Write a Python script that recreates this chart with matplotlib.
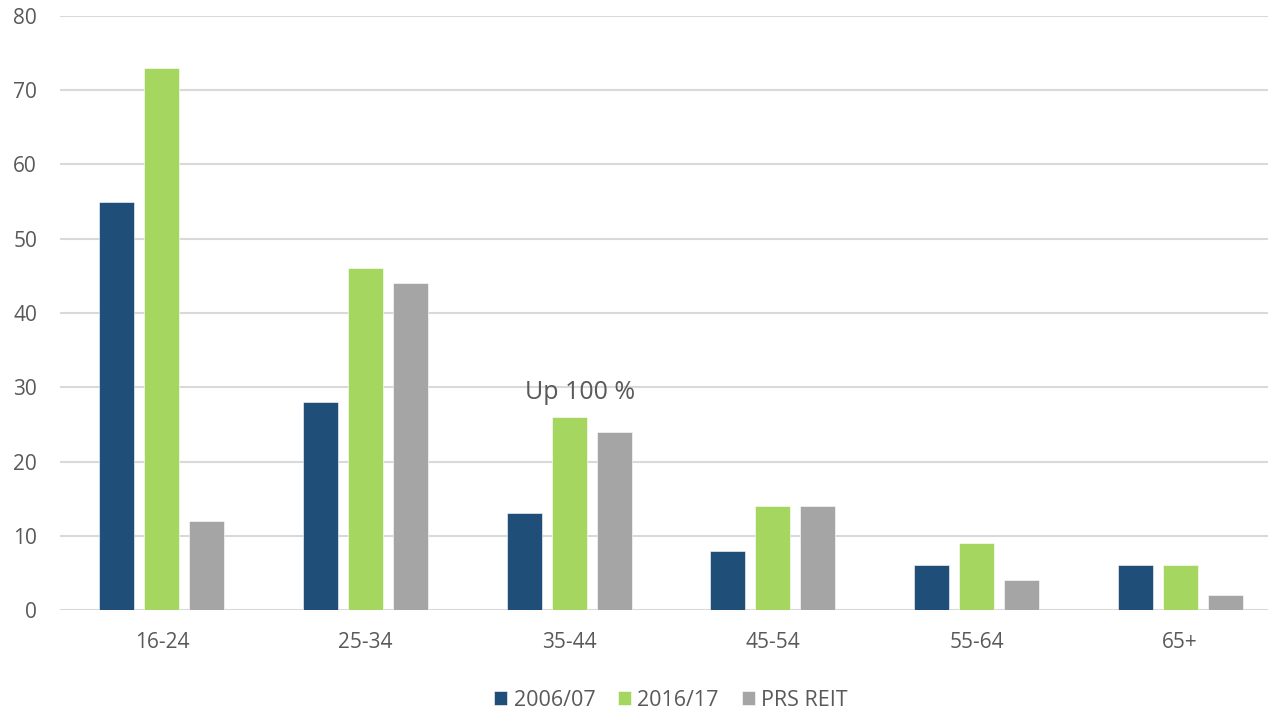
import matplotlib
matplotlib.use("Agg")
import matplotlib.pyplot as plt
import numpy as np

plt.rcParams['font.family'] = ['Open Sans', 'DejaVu Sans']

categories = ["16-24", "25-34", "35-44", "45-54", "55-64", "65+"]
series_names = ["2006/07", "2016/17", "PRS REIT"]
values_2006 = [55, 28, 13, 8, 6, 6]
values_2016 = [73, 46, 26, 14, 9, 6]
values_prs = [12, 44, 24, 14, 4, 2]
colors = ["#1F4E79", "#A5D65F", "#A5A5A5"]
y_ticks = [0, 10, 20, 30, 40, 50, 60, 70, 80]

fig = plt.figure(figsize=(12.68, 7.12), dpi=100)
W, H = 1268, 712
ax = fig.add_axes([60 / W, 102 / H, 1222 / W, 594 / H])

x = np.arange(len(categories))
width = 0.172
step = 0.221
text_col = "#595959"
handles = []
for i, (vals, col, name) in enumerate(zip([values_2006, values_2016, values_prs], colors, series_names)):
    b = ax.bar(x + (i - 1) * step, vals, width, color=col, label=name, zorder=3,
               edgecolor="white", linewidth=0.4)
    handles.append(b)

ax.set_xlim(-0.5, len(categories) - 0.5)
ax.set_ylim(0, 80)
ax.set_yticks(y_ticks)
ax.set_xticks(x)
ax.set_xticklabels(categories)
ax.grid(axis="y", color="#D9D9D9", linewidth=1.5, zorder=0)
for s in ax.spines.values():
    s.set_visible(False)
ax.tick_params(axis="both", length=0, labelsize=15, colors=text_col)
ax.tick_params(axis="x", pad=16)
ax.tick_params(axis="y", pad=16.5)
for lbl in ax.get_yticklabels():
    lbl.set_horizontalalignment("right")

ax.text(2 + 0.055, 29.3, "Up 100 %", ha="center", va="center", fontsize=18, color=text_col)

fig.legend(handles=handles, labels=series_names, loc="center", bbox_to_anchor=(671 / W, 12 / H),
           ncol=3, frameon=False, fontsize=15.5, handlelength=0.6, handleheight=0.6,
           handletextpad=0.3, columnspacing=1.05, labelcolor=text_col)

fig.savefig("out.png", dpi=100)
